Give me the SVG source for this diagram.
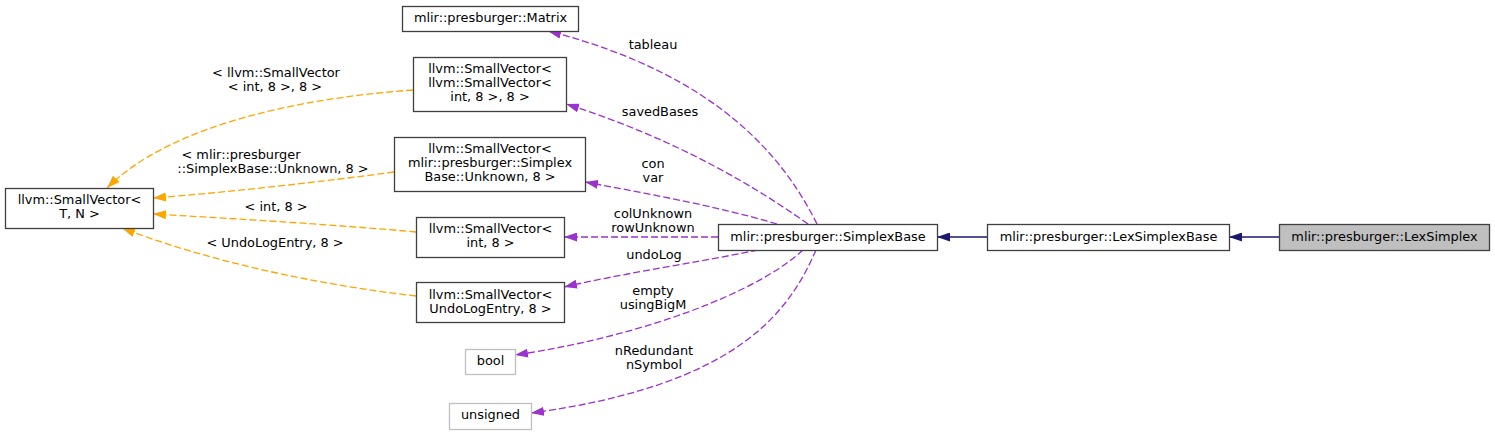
<svg xmlns="http://www.w3.org/2000/svg" width="1495" height="435" viewBox="0 0 1495 435">
<style>
text{font-family:"DejaVu Sans",sans-serif;font-size:12.9px;fill:#000}
.n rect{fill:#fff;stroke:#404040;stroke-width:1.3}
.g rect{fill:#fff;stroke:#bfbfbf;stroke-width:1.3}
.c text,.n text,.g text{text-anchor:middle}
.p{fill:none;stroke:#9a32cd;stroke-width:1.3;stroke-dasharray:7,3}
.o{fill:none;stroke:#ffa500;stroke-width:1.3;stroke-dasharray:7,3}
.b{fill:none;stroke:#191970;stroke-width:1.3}
</style>
<defs>
<marker id="ap" markerUnits="userSpaceOnUse" viewBox="0 0 13 9" refX="13" refY="4.5" markerWidth="13" markerHeight="9" orient="auto"><path d="M0,0L13,4.5L0,9z" fill="#9a32cd"/></marker>
<marker id="ao" markerUnits="userSpaceOnUse" viewBox="0 0 13 9" refX="13" refY="4.5" markerWidth="13" markerHeight="9" orient="auto"><path d="M0,0L13,4.5L0,9z" fill="#ffa500"/></marker>
<marker id="ab" markerUnits="userSpaceOnUse" viewBox="0 0 13 9" refX="13" refY="4.5" markerWidth="13" markerHeight="9" orient="auto"><path d="M0,0L13,4.5L0,9z" fill="#191970"/></marker>
</defs>
<rect width="1495" height="435" fill="#fff"/>
<g id="edges" class="c">
<path class="b" d="M987,237L937,237" marker-end="url(#ab)"/>
<path class="b" d="M1279,237L1229,237" marker-end="url(#ab)"/>
<path class="p" d="M817,224C785,160 720,75 548,31" marker-end="url(#ap)"/>
<text x="653" y="49">tableau</text>
<path class="p" d="M808,224C760,190 680,140 566,104" marker-end="url(#ap)"/>
<text x="660" y="116">savedBases</text>
<path class="p" d="M777,224C720,207 650,194 585,182" marker-end="url(#ap)"/>
<text x="653" y="168">con</text>
<text x="653" y="182">var</text>
<path class="p" d="M718,237L564,237" marker-end="url(#ap)"/>
<text x="653" y="218">colUnknown</text>
<text x="653" y="232">rowUnknown</text>
<path class="p" d="M758,250C700,262 630,272 564,287" marker-end="url(#ap)"/>
<text x="654" y="259">undoLog</text>
<path class="p" d="M803,250C760,290 650,335 515,355" marker-end="url(#ap)"/>
<text x="653" y="295">empty</text>
<text x="653" y="309">usingBigM</text>
<path class="p" d="M816,250C790,310 740,385 531,413" marker-end="url(#ap)"/>
<text x="654" y="355">nRedundant</text>
<text x="654" y="369">nSymbol</text>
<path class="o" d="M413,90C300,98 170,125 107,188" marker-end="url(#ao)"/>
<text x="276" y="77">&lt; llvm::SmallVector</text>
<text x="275" y="91">&lt; int, 8 &gt;, 8 &gt;</text>
<path class="o" d="M394,172C320,182 230,192 153,198" marker-end="url(#ao)"/>
<text x="241" y="159">&lt; mlir::presburger</text>
<text x="273" y="173">::SimplexBase::Unknown, 8 &gt;</text>
<path class="o" d="M416,232C340,225 240,219 153,214" marker-end="url(#ao)"/>
<text x="276" y="211">&lt; int, 8 &gt;</text>
<path class="o" d="M416,296C320,285 210,262 122,228" marker-end="url(#ao)"/>
<text x="275" y="247">&lt; UndoLogEntry, 8 &gt;</text>
</g>
<g id="LexSimplex" class="n"><rect x="1279.5" y="224.5" width="210" height="26" style="fill:#bfbfbf"/><text x="1384.5" y="241">mlir::presburger::LexSimplex</text></g>
<g id="LexSimplexBase" class="n"><rect x="987.5" y="224.5" width="242" height="26"/><text x="1108.5" y="241">mlir::presburger::LexSimplexBase</text></g>
<g id="SimplexBase" class="n"><rect x="718.5" y="224.5" width="219" height="26"/><text x="828" y="241">mlir::presburger::SimplexBase</text></g>
<g id="SmallVectorTN" class="n"><rect x="5.5" y="188.5" width="148" height="40"/><text x="79.5" y="204">llvm::SmallVector&lt;</text><text x="79.5" y="218">T, N &gt;</text></g>
<g id="Matrix" class="n"><rect x="402.5" y="6.5" width="176" height="25"/><text x="490.5" y="22">mlir::presburger::Matrix</text></g>
<g id="SVSV" class="n"><rect x="413.5" y="57.5" width="153" height="54"/><text x="490" y="73">llvm::SmallVector&lt;</text><text x="490" y="87">llvm::SmallVector&lt;</text><text x="490" y="101">int, 8 &gt;, 8 &gt;</text></g>
<g id="SVUnknown" class="n"><rect x="394.5" y="137.5" width="191" height="54"/><text x="490" y="153">llvm::SmallVector&lt;</text><text x="490" y="167">mlir::presburger::Simplex</text><text x="490" y="181">Base::Unknown, 8 &gt;</text></g>
<g id="SVint" class="n"><rect x="416.5" y="217.5" width="148" height="40"/><text x="490.5" y="233">llvm::SmallVector&lt;</text><text x="490.5" y="247">int, 8 &gt;</text></g>
<g id="SVUndo" class="n"><rect x="416.5" y="282.5" width="148" height="40"/><text x="490.5" y="299">llvm::SmallVector&lt;</text><text x="490.5" y="313">UndoLogEntry, 8 &gt;</text></g>
<g id="bool" class="g"><rect x="465.5" y="349.5" width="50" height="25"/><text x="490.5" y="365">bool</text></g>
<g id="unsigned" class="g"><rect x="449.5" y="403.5" width="82" height="26"/><text x="490.5" y="419">unsigned</text></g>
</svg>
